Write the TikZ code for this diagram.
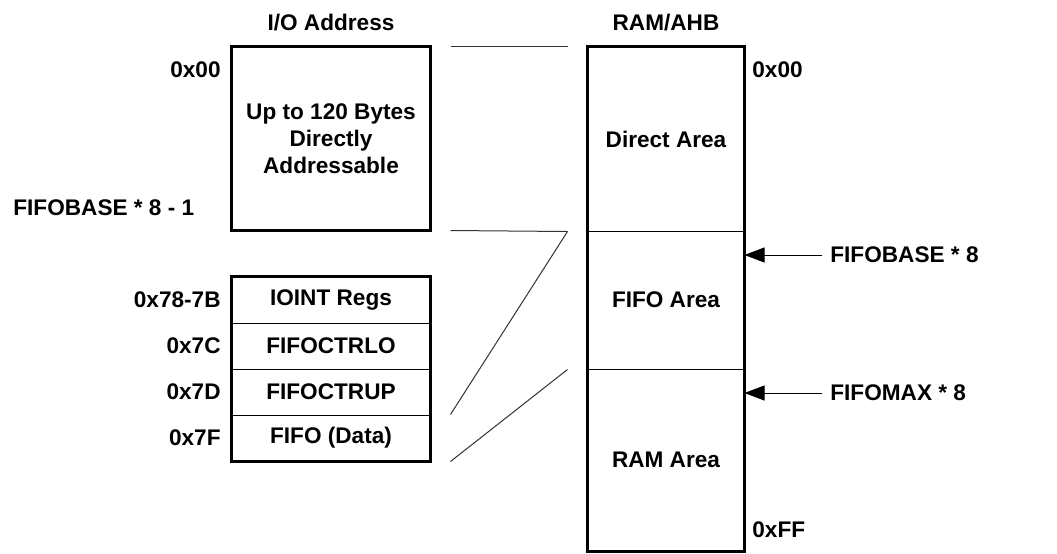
\documentclass[tikz,border=0pt]{standalone}
\usepackage{fontspec}
\setmainfont{Liberation Sans}
\usetikzlibrary{arrows.meta}
\begin{document}
\begin{tikzpicture}
[x=0.5pt,y=-0.5pt,
  txtdecorate/.style={font=\bfseries\fontsize{11.3}{13.5}\selectfont,inner sep=0pt,align=center},
  celldecorate/.style={txtdecorate,draw,line width=0.5pt,shape=rectangle},
  framedecorate/.style={line width=1.3pt},
  linkdecorate/.style={line width=0.5pt,black!80},
  ptrdecorate/.style={line width=0.5pt,-{Triangle[length=10pt,width=7.5pt]}}]
\useasboundingbox (0,0) rectangle (1057,553);
%% headings
\node (iohead) at (331,23) [txtdecorate] {I/O Address};
\node (ramhead) at (666,23) [txtdecorate] {RAM/AHB};
%% I/O side
\node (io) at (331,138.5) [celldecorate,minimum width=99pt,minimum height=91.5pt]
  {Up to 120 Bytes\\Directly\\Addressable};
\draw[framedecorate] (io.north west) rectangle (io.south east);
\foreach \nodename/\y/\txt/\addr in {r1/300/IOINT Regs/0x78-7B, r2/346/FIFOCTRLO/0x7C,
  r3/392/FIFOCTRUP/0x7D, r4/438/FIFO (Data)/0x7F} {
  \node (\nodename) at (331,\y) [celldecorate,minimum width=99pt,minimum height=23pt] {\txt};
  \node (a\nodename) at (221,\y) [txtdecorate,anchor=east] {\addr};
}
\draw[framedecorate] (r1.north west) rectangle (r4.south east);
\node (ioaddr0) at (221,70) [txtdecorate,anchor=east] {0x00};
\node (ioaddr1) at (13,208) [txtdecorate,anchor=west] {FIFOBASE * 8 - 1};
%% RAM side
\foreach \nodename/\y/\h/\txt in {direct/139/92pt/Direct Area, fifo/300/69pt/FIFO Area,
  ram/460/91pt/RAM Area} {
  \node (\nodename) at (666,\y) [celldecorate,minimum width=78pt,minimum height=\h] {\txt};
}
\draw[framedecorate] (direct.north west) rectangle (ram.south east);
\node (ramaddr0) at (752,70) [txtdecorate,anchor=west] {0x00};
\node (ramaddr1) at (752,530) [txtdecorate,anchor=west] {0xFF};
\node (fb) at (830,255) [txtdecorate,anchor=west] {FIFOBASE * 8};
\node (fm) at (830,393) [txtdecorate,anchor=west] {FIFOMAX * 8};
\draw[ptrdecorate] ([xshift=-4pt]fb.west) -- (fb.west -| fifo.east);
\draw[ptrdecorate] ([xshift=-4pt]fm.west) -- (fm.west -| ram.east);
%% links between the two maps
\draw[linkdecorate] ([xshift=10pt]io.north east) -- ([xshift=-10pt]direct.north west);
\draw[linkdecorate] ([xshift=10pt]io.south east) -- ([xshift=-10pt]direct.south west);
\draw[linkdecorate] ([xshift=-10pt]direct.south west) -- ([xshift=10pt]r4.north east);
\draw[linkdecorate] ([xshift=-10pt]fifo.south west) -- ([xshift=10pt]r4.south east);
\end{tikzpicture}
\end{document}
